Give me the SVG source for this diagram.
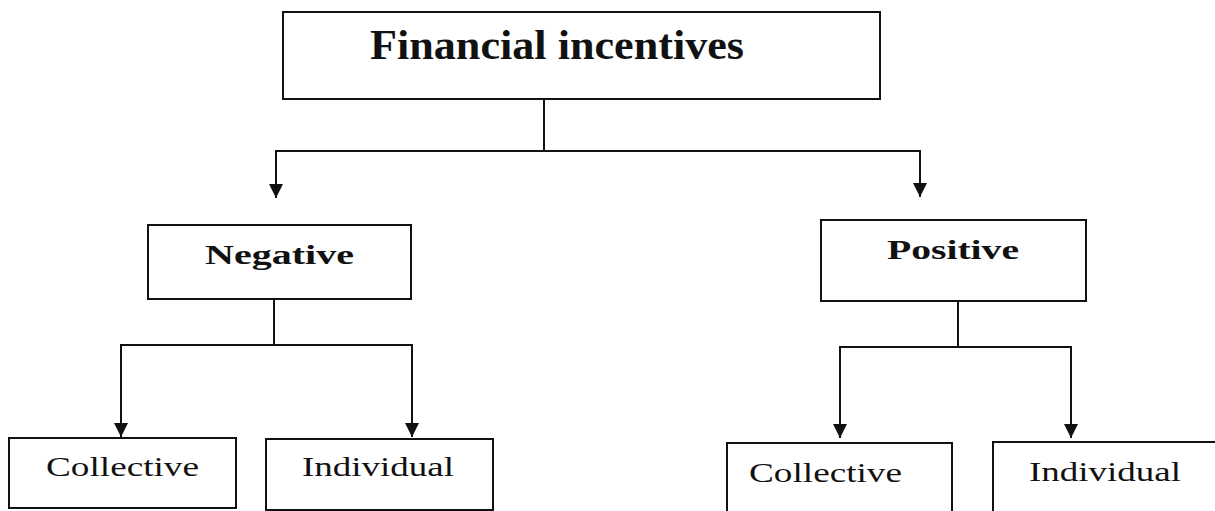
<svg xmlns="http://www.w3.org/2000/svg" width="1215" height="511" viewBox="0 0 1215 511">
<style>
.box{fill:#fff;stroke:#111;stroke-width:2}
.conn{fill:none;stroke:#111;stroke-width:2}
.t{font-family:"Liberation Serif","Times New Roman",serif;fill:#111;text-anchor:middle}
.b{font-weight:bold}
</style>
<defs>
<marker id="arr" markerUnits="userSpaceOnUse" markerWidth="14" markerHeight="14" refX="13" refY="6.5" orient="auto" viewBox="0 0 13 13">
<path d="M0,0 L13,6.5 L0,13 z" fill="#111"/>
</marker>
</defs>
<rect width="1215" height="511" fill="#fff"/>
<g id="connectors">
<line class="conn" x1="544" y1="99" x2="544" y2="151"/>
<polyline class="conn" points="276,151 920,151 920,197" marker-end="url(#arr)"/>
<line class="conn" x1="276" y1="150" x2="276" y2="198" marker-end="url(#arr)"/>
<line class="conn" x1="274" y1="299" x2="274" y2="345"/>
<line class="conn" x1="120" y1="345" x2="413" y2="345"/>
<line class="conn" x1="121" y1="344" x2="121" y2="437" marker-end="url(#arr)"/>
<line class="conn" x1="412" y1="344" x2="412" y2="437" marker-end="url(#arr)"/>
<line class="conn" x1="958" y1="301" x2="958" y2="347"/>
<line class="conn" x1="839" y1="347" x2="1072" y2="347"/>
<line class="conn" x1="840" y1="346" x2="840" y2="438" marker-end="url(#arr)"/>
<line class="conn" x1="1071" y1="346" x2="1071" y2="438" marker-end="url(#arr)"/>
</g>
<g id="financial">
<rect class="box" x="283" y="12" width="597" height="87"/>
<text class="t b" x="557" y="59" font-size="42" textLength="374" lengthAdjust="spacingAndGlyphs">Financial incentives</text>
</g>
<g id="negative">
<rect class="box" x="148" y="225" width="263" height="74"/>
<text class="t b" x="279.5" y="264" font-size="28" textLength="149" lengthAdjust="spacingAndGlyphs">Negative</text>
</g>
<g id="positive">
<rect class="box" x="821" y="220" width="265" height="81"/>
<text class="t b" x="953" y="259" font-size="28" textLength="132" lengthAdjust="spacingAndGlyphs">Positive</text>
</g>
<g id="neg-collective">
<rect class="box" x="9" y="438" width="227" height="70"/>
<text class="t" x="122.5" y="476" font-size="28" textLength="153" lengthAdjust="spacingAndGlyphs">Collective</text>
</g>
<g id="neg-individual">
<rect class="box" x="266" y="439" width="227" height="71"/>
<text class="t" x="378" y="476" font-size="28" textLength="152" lengthAdjust="spacingAndGlyphs">Individual</text>
</g>
<g id="pos-collective">
<rect class="box" x="727" y="443" width="225" height="80"/>
<text class="t" x="825.5" y="482" font-size="28" textLength="153" lengthAdjust="spacingAndGlyphs">Collective</text>
</g>
<g id="pos-individual">
<rect class="box" x="993" y="442" width="240" height="80"/>
<text class="t" x="1105" y="481" font-size="28" textLength="152" lengthAdjust="spacingAndGlyphs">Individual</text>
</g>
</svg>
